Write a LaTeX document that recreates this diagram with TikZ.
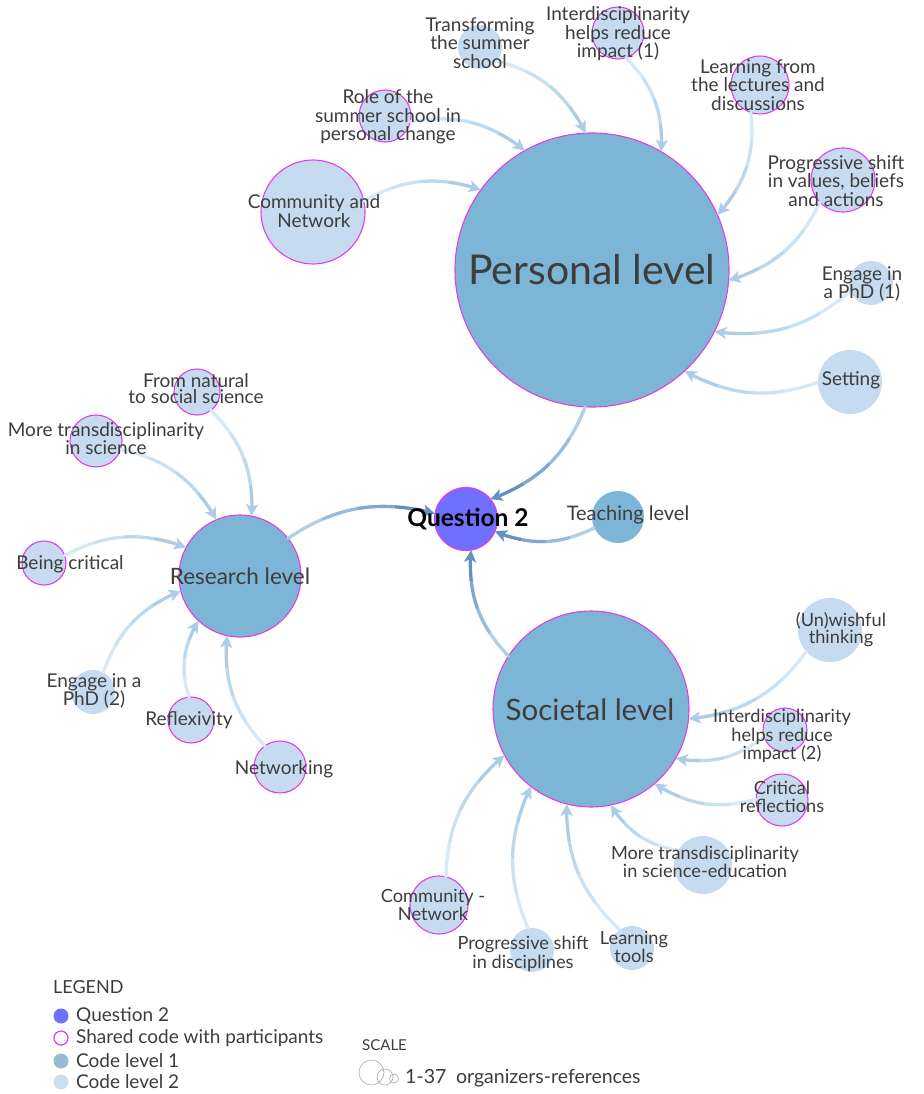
\documentclass[tikz,border=0pt]{standalone}
\usepackage{fontspec}
\setmainfont{Lato}
\usetikzlibrary{arrows.meta,calc}
\definecolor{lvlone}{HTML}{7DB5D6}
\definecolor{lvltwo}{HTML}{C6DBEF}
\definecolor{qcol}{HTML}{7070FF}
\definecolor{mag}{HTML}{E23FE2}
\definecolor{txt}{HTML}{3D3D3D}
\definecolor{etwoca}{HTML}{D8E9F5}
\definecolor{etwocb}{HTML}{CAE1F1}
\definecolor{etwocc}{HTML}{BBD8EC}
\definecolor{etwocd}{HTML}{ABCEE6}
\definecolor{eoneca}{HTML}{B3CFE6}
\definecolor{eonecb}{HTML}{98BCDC}
\definecolor{eonecc}{HTML}{7EA8D1}
\definecolor{eonecd}{HTML}{6590C4}
\definecolor{lgone}{HTML}{97BCCD}
\definecolor{lgtwo}{HTML}{CADFF0}
\definecolor{scl}{HTML}{A8A8A8}
% curved connector from node #1 to node #2, split into four exact Bezier pieces
% coloured from light (source) to darker (target)
\newcommand\gedge[3]{%
  \path (#1) to[bend left=24] coordinate[pos=0] (P0) coordinate[pos=1] (P3) (#2);
  \coordinate (P1) at ($(P0)!0.3915!24:(P3)$);
  \coordinate (P2) at ($(P3)!0.3915!-24:(P0)$);
  \coordinate (Q0) at ($(P0)!0.5!(P1)$);
  \coordinate (Q1) at ($(P1)!0.5!(P2)$);
  \coordinate (Q2) at ($(P2)!0.5!(P3)$);
  \coordinate (R0) at ($(Q0)!0.5!(Q1)$);
  \coordinate (R1) at ($(Q1)!0.5!(Q2)$);
  \coordinate (M) at ($(R0)!0.5!(R1)$);
  % first half P0 Q0 R0 M
  \coordinate (a01) at ($(P0)!0.5!(Q0)$);
  \coordinate (a12) at ($(Q0)!0.5!(R0)$);
  \coordinate (a23) at ($(R0)!0.5!(M)$);
  \coordinate (b0) at ($(a01)!0.5!(a12)$);
  \coordinate (b1) at ($(a12)!0.5!(a23)$);
  \coordinate (m1) at ($(b0)!0.5!(b1)$);
  % second half M R1 Q2 P3
  \coordinate (c01) at ($(M)!0.5!(R1)$);
  \coordinate (c12) at ($(R1)!0.5!(Q2)$);
  \coordinate (c23) at ($(Q2)!0.5!(P3)$);
  \coordinate (d0) at ($(c01)!0.5!(c12)$);
  \coordinate (d1) at ($(c12)!0.5!(c23)$);
  \coordinate (m2) at ($(d0)!0.5!(d1)$);
  \draw[eline,draw=#3ca] (P0) .. controls (a01) and (b0) .. (m1);
  \draw[eline,draw=#3cb] (m1) .. controls (b1) and (a23) .. (M);
  \draw[eline,draw=#3cc] (M) .. controls (c01) and (d0) .. (m2);
  \draw[eline,draw=#3cd,line cap=butt,-{Stealth[length=12pt,width=12pt,inset=3pt]}] (m2) .. controls (d1) and (c23) .. (P3);
}
\begin{document}
\begin{tikzpicture}[x=1pt,y=1pt,
  circ/.style={circle,inner sep=0pt,outer sep=0pt},
  lone/.style={circ,fill=lvlone,draw=mag,line width=1.1pt},
  ltwo/.style={circ,fill=lvltwo},
  shared/.style={draw=mag,line width=1.1pt},
  qnode/.style={circ,fill=qcol,draw=mag,line width=1.1pt},
  lab/.style={align=center,text=txt,inner sep=0pt,font=\fontsize{19}{18.5}\selectfont},
  slab/.style={lab,font=\fontsize{18.2}{18.5}\selectfont},
  tight/.style={font=\fontsize{19}{16}\selectfont},
  eline/.style={line width=3.3pt,line cap=round},
  lgtxt/.style={anchor=west,text=txt,inner sep=0pt,font=\fontsize{19}{20}\selectfont},
  lgdot/.style={circ,minimum size=15pt}
]
\fill[white] (0,0) rectangle (923,-1094);
\useasboundingbox (0,0) rectangle (923,-1094);

% level 1 and question
\node[lone,minimum size=274pt] (pers) at (592,-270) {};
\node[qnode,minimum size=63pt] (q) at (466,-519) {};
\node[circ,fill=lvlone,minimum size=52pt] (teach) at (618,-517) {};
\node[lone,minimum size=122pt] (res) at (240,-576) {};
\node[lone,minimum size=196pt] (soc) at (591,-709) {};

% level 2, personal
\node[ltwo,minimum size=44pt] (trans) at (480,-47) {};
\node[ltwo,shared,minimum size=52pt] (int1) at (618,-33) {};
\node[ltwo,shared,minimum size=52pt] (role) at (385,-116) {};
\node[ltwo,shared,minimum size=104pt] (comm) at (313,-212) {};
\node[ltwo,shared,minimum size=58pt] (learn) at (760,-85) {};
\node[ltwo,shared,minimum size=64pt] (prog) at (843,-180) {};
\node[ltwo,minimum size=44pt] (phd1) at (871,-283) {};
\node[ltwo,minimum size=64pt] (sett) at (850,-382) {};
% level 2, research
\node[ltwo,shared,minimum size=46pt] (nat) at (197,-392) {};
\node[ltwo,shared,minimum size=52pt] (moret) at (96,-441) {};
\node[ltwo,shared,minimum size=44pt] (crit) at (44,-563) {};
\node[ltwo,minimum size=44pt] (phd2) at (93,-692) {};
\node[ltwo,shared,minimum size=46pt] (refl) at (191,-720) {};
\node[ltwo,shared,minimum size=52pt] (netw) at (280,-767) {};
% level 2, societal
\node[ltwo,minimum size=64pt] (unw) at (830,-630) {};
\node[ltwo,shared,minimum size=44pt] (int2) at (785,-730) {};
\node[ltwo,shared,minimum size=52pt] (critr) at (782,-800) {};
\node[ltwo,minimum size=58pt] (mtse) at (703,-865) {};
\node[ltwo,minimum size=44pt] (ltools) at (632,-948) {};
\node[ltwo,minimum size=44pt] (pdisc) at (532,-950) {};
\node[ltwo,shared,minimum size=58pt] (commn) at (439,-905) {};

% edges level 2
\foreach \s in {trans,int1,role,comm,learn,prog,phd1,sett}
  {\gedge{\s}{pers}{etwo}}
\foreach \s in {nat,moret,crit,phd2,refl,netw}
  {\gedge{\s}{res}{etwo}}
\foreach \s in {unw,int2,critr,mtse,ltools,pdisc,commn}
  {\gedge{\s}{soc}{etwo}}
% edges level 1
\foreach \s in {pers,res,teach,soc}
  {\gedge{\s}{q}{eone}}

% labels
\node[lab,font=\fontsize{41}{44}\selectfont] (lpers) at (592,-270) {Personal level};
\node[lab,font=\fontsize{29.5}{32}\selectfont] (lsoc) at (590,-710) {Societal level};
\node[lab,font=\fontsize{22.5}{24}\selectfont] (lres) at (240,-576) {Research level};
\node[lab,text=black,font=\fontsize{24.5}{26}\selectfont\bfseries] (lq) at (468,-519) {Question 2};
\node[lab,font=\fontsize{20}{21}\selectfont] (lteach) at (628,-515) {Teaching level};

\node[lab] (ltrans) at (480,-43) {Transforming\\the summer\\school};
\node[lab] (lint1) at (618,-34) {Interdisciplinarity\\helps reduce\\impact (1)};
\node[lab] (lrole) at (388,-117) {Role of the\\summer school in\\personal change};
\node[lab] (lcomm) at (314,-211) {Community and\\Network};
\node[lab] (llearn) at (758,-85) {Learning from\\the lectures and\\discussions};
\node[lab] (lprog) at (836,-181) {Progressive shift\\in values, beliefs\\and actions};
\node[lab] (lphd1) at (862,-284) {Engage in\\a PhD (1)};
\node[lab] (lsett) at (851,-380) {Setting};

\node[lab,tight] (lnat) at (196,-389) {From natural\\to social science};
\node[lab,tight] (lmoret) at (106,-439) {More transdisciplinarity\\in science};
\node[lab] (lcrit) at (70,-564) {Being critical};
\node[lab] (lphd2) at (94,-691) {Engage in a\\PhD (2)};
\node[lab] (lrefl) at (189,-720) {Reflexivity};
\node[lab] (lnetw) at (284,-769) {Networking};

\node[slab,font=\fontsize{18.2}{15.5}\selectfont] (lunw) at (841,-630) {(Un)wishful\\thinking};
\node[slab] (lint2) at (782,-736) {Interdisciplinarity\\helps reduce\\impact (2)};
\node[slab] (lcritr) at (782,-797) {Critical\\reflections};
\node[slab] (lmtse) at (705,-862) {More transdisciplinarity\\in science-education};
\node[slab] (lltools) at (634,-947) {Learning\\tools};
\node[slab] (lpdisc) at (523,-954) {Progressive shift\\in disciplines};
\node[slab] (lcommn) at (433,-905) {Community -\\Network};

% legend
\node[lgtxt,font=\fontsize{18}{19}\selectfont] (lgtitle) at (53,-987) {LEGEND};
\node[lgdot,fill=qcol] (lgd1) at (61,-1016) {};
\node[lgdot,fill=white,draw=mag,line width=1.2pt,minimum size=14pt] (lgd2) at (61,-1038) {};
\node[lgdot,fill=lgone] (lgd3) at (61,-1061) {};
\node[lgdot,fill=lgtwo] (lgd4) at (61,-1082) {};
\node[lgtxt] (lgt1) at (76,-1016) {Question 2};
\node[lgtxt] (lgt2) at (76,-1038) {Shared code with participants};
\node[lgtxt] (lgt3) at (76,-1061) {Code level 1};
\node[lgtxt] (lgt4) at (76,-1082) {Code level 2};

\node[lgtxt,font=\fontsize{15}{16}\selectfont] (sctitle) at (362,-1045) {SCALE};
\draw[scl,line width=0.6pt] (371.5,-1072.5) circle (12.5);
\draw[scl,line width=0.6pt] (385,-1077) circle (8);
\draw[scl,line width=0.6pt] (394,-1078.5) circle (4.5);
\node[lgtxt,font=\fontsize{19.5}{20}\selectfont] (sctxt) at (405,-1078) {1-37\enspace organizers-references};
\end{tikzpicture}
\end{document}
